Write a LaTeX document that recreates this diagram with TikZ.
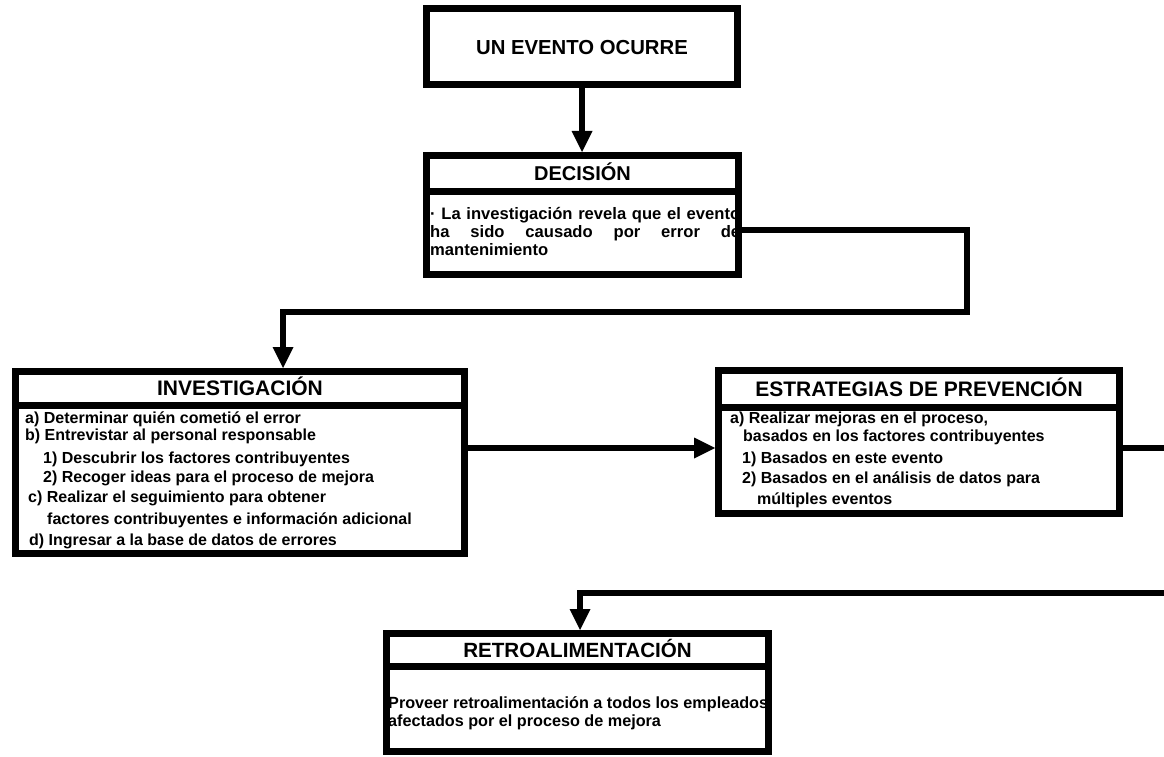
\documentclass[tikz,border=0pt]{standalone}
\usepackage{fontspec}
\setmainfont{Liberation Sans}
\usetikzlibrary{arrows.meta}
\begin{document}
\begin{tikzpicture}[x=1pt,y=-1pt,
  box/.style={draw, line width=7pt, inner sep=0pt},
  sepline/.style={line width=7pt},
  conn/.style={line width=5.5pt, line join=miter},
  arr/.style={conn, -{Triangle[length=21pt,width=21pt,line width=0pt]}},
  head/.style={font=\fontsize{21}{24}\selectfont\bfseries, inner sep=0pt, anchor=base},
  body/.style={font=\fontsize{16}{18}\selectfont\bfseries, inner sep=0pt, anchor=base west}]
\useasboundingbox[fill=white] (0,0) rectangle (1164,757);

% boxes
\node[box, minimum width=311pt, minimum height=76pt] (ev) at (582,46.5) {};
\node[head, font=\fontsize{20.3}{24}\selectfont\bfseries] (evt) at (582,55) {UN EVENTO OCURRE};

\node[box, minimum width=312pt, minimum height=119pt] (dec) at (582.5,215) {};
\draw[sepline] (dec.west |- 0,191) -- (dec.east |- 0,191);
\node[head, font=\fontsize{20}{24}\selectfont\bfseries] (dech) at (582.5,180) {DECISIÓN};
\node[body, font=\fontsize{16.6}{18}\selectfont\bfseries] (decb) at (430,219) {\begin{tabular}[t]{@{}l@{}}%
\makebox[310pt][s]{· La investigación revela que el evento}\\
\makebox[310pt][s]{ha sido causado por error de}\\
mantenimiento\end{tabular}};

\node[box, minimum width=449pt, minimum height=182pt] (inv) at (240,462.5) {};
\draw[sepline] (inv.west |- 0,405) -- (inv.east |- 0,405);
\node[head] (invh) at (240,395) {INVESTIGACIÓN};
\node[body] (invb) at (25,423.5) {\begin{tabular}[t]{@{}l@{}}%
a) Determinar quién cometió el error\\[-1pt]
b) Entrevistar al personal responsable\\[5pt]
\hspace*{18pt}1) Descubrir los factores contribuyentes\\[1pt]
\hspace*{18pt}2) Recoger ideas para el proceso de mejora\\[2pt]
\hspace*{3pt}c) Realizar el seguimiento para obtener\\[4pt]
\hspace*{22pt}factores contribuyentes e información adicional\\[3pt]
\hspace*{4pt}d) Ingresar a la base de datos de errores\end{tabular}};

\node[box, minimum width=401pt, minimum height=143pt] (est) at (919,442) {};
\draw[sepline] (est.west |- 0,407) -- (est.east |- 0,407);
\node[head] (esth) at (919,396) {ESTRATEGIAS DE PREVENCIÓN};
\node[body] (estb) at (730,423.5) {\begin{tabular}[t]{@{}l@{}}%
a) Realizar mejoras en el proceso,\\
\hspace*{13pt}basados en los factores contribuyentes\\[4pt]
\hspace*{12pt}1) Basados en este evento\\[2pt]
\hspace*{12pt}2) Basados en el análisis de datos para\\[3pt]
\hspace*{27pt}múltiples eventos\end{tabular}};

\node[box, minimum width=382pt, minimum height=118pt] (ret) at (577.5,692.5) {};
\draw[sepline] (ret.west |- 0,666) -- (ret.east |- 0,666);
\node[head, font=\fontsize{20.6}{24}\selectfont\bfseries] (reth) at (577.5,657) {RETROALIMENTACIÓN};
\node[body, font=\fontsize{16.2}{18}\selectfont\bfseries] (retb) at (388,708.5) {\begin{tabular}[t]{@{}l@{}}%
Proveer retroalimentación a todos los empleados\\
afectados por el proceso de mejora\end{tabular}};

% connectors
\draw[arr] (ev.south) -- (ev.south |- dec.north);

\coordinate (d1) at (967,230);
\coordinate (d2) at (967,312);
\coordinate (d3) at (283,312);
\draw[arr] (dec.east |- d1) -- (d1) -- (d2) -- (d3) -- (d3 |- inv.north);

\coordinate (e1) at (0,448);
\draw[arr] (inv.east |- e1) -- (est.west |- e1);

\coordinate (f1) at (1164,448);
\draw[conn] (est.east |- f1) -- (f1);

\coordinate (g1) at (1164,593);
\coordinate (g2) at (580,593);
\draw[arr] (g1) -- (g2) -- (g2 |- ret.north);
\end{tikzpicture}
\end{document}
